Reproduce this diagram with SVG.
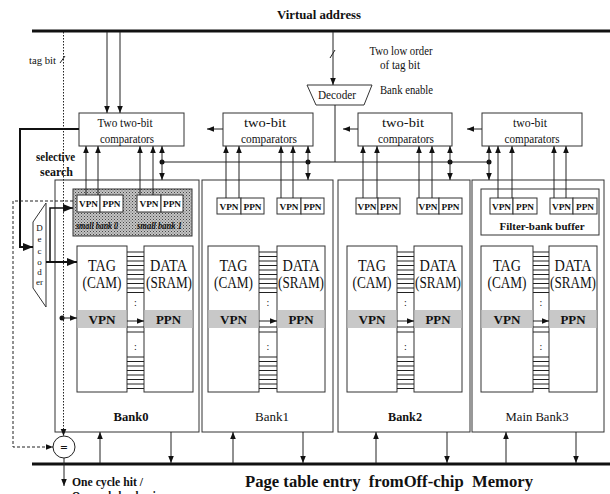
<svg xmlns="http://www.w3.org/2000/svg" width="610" height="494" viewBox="0 0 610 494">
<defs>
<style>
.ln{stroke:#222;stroke-width:1;fill:none}
.box{fill:#fff;stroke:#333;stroke-width:1}
.nf{fill:none;stroke:#333;stroke-width:1}
.t{font-family:"Liberation Serif","Times New Roman",serif;fill:#111}
.b{font-weight:bold}
.band{fill:#c8c8c8}
.m{text-anchor:middle}
</style>
<marker id="ah" viewBox="0 0 10 10" refX="10" refY="5" markerWidth="7" markerHeight="7" markerUnits="userSpaceOnUse" orient="auto"><path d="M0,1 L10,5 L0,9 z" fill="#111"/></marker>
<marker id="ahb" viewBox="0 0 10 10" refX="10" refY="5" markerWidth="10" markerHeight="10" markerUnits="userSpaceOnUse" orient="auto"><path d="M0,1 L10,5 L0,9 z" fill="#111"/></marker>
<pattern id="dots" width="3" height="3" patternUnits="userSpaceOnUse"><rect width="3" height="3" fill="#c4c4c4"/><rect width="1" height="1" fill="#444"/><rect x="1.5" y="1.5" width="1" height="1" fill="#666"/></pattern>
</defs>

<g id="labels">
<text class="t b m" x="319" y="19" font-size="12" textLength="84" lengthAdjust="spacingAndGlyphs">Virtual address</text>
<text class="t" x="29" y="64" font-size="11" textLength="27" lengthAdjust="spacingAndGlyphs">tag bit</text>
<text class="t m" x="401" y="55" font-size="12" textLength="63" lengthAdjust="spacingAndGlyphs">Two low order</text>
<text class="t m" x="400" y="69" font-size="12" textLength="40" lengthAdjust="spacingAndGlyphs">of tag bit</text>
<text class="t" x="380" y="94" font-size="12" textLength="53" lengthAdjust="spacingAndGlyphs">Bank enable</text>
<text class="t b" x="36" y="161" font-size="12" textLength="39" lengthAdjust="spacingAndGlyphs">selective</text>
<text class="t b" x="40" y="176" font-size="12" textLength="33" lengthAdjust="spacingAndGlyphs">search</text>
<text class="t b" x="72" y="486" font-size="12" textLength="71" lengthAdjust="spacingAndGlyphs">One cycle hit /</text>
<text class="t b" x="72" y="500" font-size="12" textLength="92" lengthAdjust="spacingAndGlyphs">One cycle bank miss</text>
<text class="t b" x="245" y="487" font-size="16" textLength="288" lengthAdjust="spacingAndGlyphs" xml:space="preserve">Page table entry  fromOff-chip  Memory</text>
</g>

<g id="decoder_top">
<path class="box" d="M307,85 H372 L364,105 H316 Z"/>
<text class="t m" x="337" y="99" font-size="12" textLength="38" lengthAdjust="spacingAndGlyphs">Decoder</text>
</g>

<g id="comp1">
<rect class="box" x="79" y="113" width="105" height="33"/>
<text class="t m" x="125" y="127" font-size="12" textLength="55" lengthAdjust="spacingAndGlyphs">Two two-bit</text>
<text class="t m" x="127" y="143" font-size="12" textLength="54" lengthAdjust="spacingAndGlyphs">comparators</text>
</g>
<g id="comp2">
<rect class="box" x="223" y="113" width="90" height="33"/>
<text class="t m" x="265" y="127" font-size="12" textLength="42" lengthAdjust="spacingAndGlyphs">two-bit</text>
<text class="t m" x="269" y="143" font-size="12" textLength="56" lengthAdjust="spacingAndGlyphs">comparators</text>
</g>
<g id="comp3">
<rect class="box" x="358" y="113" width="94" height="33"/>
<text class="t m" x="403" y="127" font-size="12" textLength="42" lengthAdjust="spacingAndGlyphs">two-bit</text>
<text class="t m" x="406" y="143" font-size="12" textLength="56" lengthAdjust="spacingAndGlyphs">comparators</text>
</g>
<g id="comp4">
<rect class="box" x="482" y="113" width="100" height="33"/>
<text class="t m" x="530" y="127" font-size="12" textLength="34" lengthAdjust="spacingAndGlyphs">two-bit</text>
<text class="t m" x="532" y="143" font-size="12" textLength="55" lengthAdjust="spacingAndGlyphs">comparators</text>
</g>

<g id="bank0">
<rect class="box" x="55" y="180" width="144" height="252"/>
<rect x="73" y="189" width="119" height="47" fill="url(#dots)" stroke="#333"/>
<rect class="box" x="77" y="195" width="23" height="17"/><rect class="box" x="100" y="195" width="23" height="17"/>
<rect class="box" x="137" y="195" width="24" height="17"/><rect class="box" x="161" y="195" width="22" height="17"/>
<text class="t b m" x="88.5" y="207" font-size="9" textLength="19" lengthAdjust="spacingAndGlyphs">VPN</text>
<text class="t b m" x="111.5" y="207" font-size="9" textLength="18" lengthAdjust="spacingAndGlyphs">PPN</text>
<text class="t b m" x="149" y="207" font-size="9" textLength="19" lengthAdjust="spacingAndGlyphs">VPN</text>
<text class="t b m" x="172" y="207" font-size="9" textLength="18" lengthAdjust="spacingAndGlyphs">PPN</text>
<text class="t b" x="76" y="229" font-size="10" font-style="italic" textLength="42" lengthAdjust="spacingAndGlyphs">small bank 0</text>
<text class="t b" x="137" y="229" font-size="10" font-style="italic" textLength="45" lengthAdjust="spacingAndGlyphs">small bank 1</text>
<rect class="box" x="77" y="246" width="50" height="146"/><rect class="box" x="144" y="246" width="49" height="146"/>
<rect class="band" x="77.5" y="310" width="49" height="18"/><rect class="band" x="144.5" y="310" width="48" height="18"/>
<text class="t m" x="102" y="271" font-size="16" textLength="28" lengthAdjust="spacingAndGlyphs">TAG</text>
<text class="t m" x="102" y="288" font-size="16" textLength="39" lengthAdjust="spacingAndGlyphs">(CAM)</text>
<text class="t m" x="168.5" y="271" font-size="16" textLength="37" lengthAdjust="spacingAndGlyphs">DATA</text>
<text class="t m" x="169" y="288" font-size="16" textLength="46" lengthAdjust="spacingAndGlyphs">(SRAM)</text>
<text class="t b m" x="102" y="324" font-size="13" textLength="27" lengthAdjust="spacingAndGlyphs">VPN</text>
<text class="t b m" x="168.5" y="324" font-size="13" textLength="25" lengthAdjust="spacingAndGlyphs">PPN</text>
<path class="ln" d="M127,252H144M127,256.5H144M127,261H144M127,265.5H144M127,270H144M127,274.5H144M127,279H144M127,283.5H144M127,288H144M127,292.5H144M127,327H144M127,332H144M127,357H144M127,361.5H144M127,366H144M127,370.5H144M127,375H144M127,379.5H144M127,384H144M127,388.5H144"/>
<text class="t m" x="135.5" y="306" font-size="10">:</text>
<text class="t m" x="135.5" y="350" font-size="10">:</text>
<text class="t b m" x="131" y="421" font-size="13" textLength="35" lengthAdjust="spacingAndGlyphs">Bank0</text>
</g>

<g id="bank1">
<rect class="box" x="202" y="180" width="131" height="252"/>
<rect class="box" x="217" y="198" width="24" height="16"/><rect class="box" x="241" y="198" width="23" height="16"/>
<rect class="box" x="277" y="198" width="24" height="16"/><rect class="box" x="301" y="198" width="23" height="16"/>
<text class="t b m" x="229" y="209.5" font-size="9" textLength="19" lengthAdjust="spacingAndGlyphs">VPN</text>
<text class="t b m" x="252.5" y="209.5" font-size="9" textLength="18" lengthAdjust="spacingAndGlyphs">PPN</text>
<text class="t b m" x="289" y="209.5" font-size="9" textLength="19" lengthAdjust="spacingAndGlyphs">VPN</text>
<text class="t b m" x="312.5" y="209.5" font-size="9" textLength="18" lengthAdjust="spacingAndGlyphs">PPN</text>
<rect class="box" x="208" y="246" width="51" height="146"/><rect class="box" x="277" y="246" width="48" height="146"/>
<rect class="band" x="208.5" y="310" width="50" height="18"/><rect class="band" x="277.5" y="310" width="47" height="18"/>
<text class="t m" x="233.5" y="271" font-size="16" textLength="28" lengthAdjust="spacingAndGlyphs">TAG</text>
<text class="t m" x="233.5" y="288" font-size="16" textLength="39" lengthAdjust="spacingAndGlyphs">(CAM)</text>
<text class="t m" x="301" y="271" font-size="16" textLength="37" lengthAdjust="spacingAndGlyphs">DATA</text>
<text class="t m" x="301" y="288" font-size="16" textLength="46" lengthAdjust="spacingAndGlyphs">(SRAM)</text>
<text class="t b m" x="233.5" y="324" font-size="13" textLength="27" lengthAdjust="spacingAndGlyphs">VPN</text>
<text class="t b m" x="301" y="324" font-size="13" textLength="25" lengthAdjust="spacingAndGlyphs">PPN</text>
<path class="ln" d="M259,252H277M259,256.5H277M259,261H277M259,265.5H277M259,270H277M259,274.5H277M259,279H277M259,283.5H277M259,288H277M259,292.5H277M259,327H277M259,332H277M259,357H277M259,361.5H277M259,366H277M259,370.5H277M259,375H277M259,379.5H277M259,384H277M259,388.5H277"/>
<text class="t m" x="268" y="306" font-size="10">:</text>
<text class="t m" x="268" y="350" font-size="10">:</text>
<text class="t m" x="272" y="421" font-size="13" textLength="34" lengthAdjust="spacingAndGlyphs">Bank1</text>
</g>

<g id="bank2">
<rect class="box" x="338" y="180" width="132" height="252"/>
<rect class="box" x="356" y="198" width="22" height="16"/><rect class="box" x="378" y="198" width="22" height="16"/>
<rect class="box" x="417" y="198" width="22" height="16"/><rect class="box" x="439" y="198" width="23" height="16"/>
<text class="t b m" x="367" y="209.5" font-size="9" textLength="19" lengthAdjust="spacingAndGlyphs">VPN</text>
<text class="t b m" x="389" y="209.5" font-size="9" textLength="18" lengthAdjust="spacingAndGlyphs">PPN</text>
<text class="t b m" x="428" y="209.5" font-size="9" textLength="19" lengthAdjust="spacingAndGlyphs">VPN</text>
<text class="t b m" x="450.5" y="209.5" font-size="9" textLength="18" lengthAdjust="spacingAndGlyphs">PPN</text>
<rect class="box" x="347" y="246" width="50" height="146"/><rect class="box" x="414" y="246" width="48" height="146"/>
<rect class="band" x="347.5" y="310" width="49" height="18"/><rect class="band" x="414.5" y="310" width="47" height="18"/>
<text class="t m" x="372" y="271" font-size="16" textLength="28" lengthAdjust="spacingAndGlyphs">TAG</text>
<text class="t m" x="372" y="288" font-size="16" textLength="39" lengthAdjust="spacingAndGlyphs">(CAM)</text>
<text class="t m" x="438" y="271" font-size="16" textLength="37" lengthAdjust="spacingAndGlyphs">DATA</text>
<text class="t m" x="438" y="288" font-size="16" textLength="46" lengthAdjust="spacingAndGlyphs">(SRAM)</text>
<text class="t b m" x="372" y="324" font-size="13" textLength="27" lengthAdjust="spacingAndGlyphs">VPN</text>
<text class="t b m" x="438" y="324" font-size="13" textLength="25" lengthAdjust="spacingAndGlyphs">PPN</text>
<path class="ln" d="M397,252H414M397,256.5H414M397,261H414M397,265.5H414M397,270H414M397,274.5H414M397,279H414M397,283.5H414M397,288H414M397,292.5H414M397,327H414M397,332H414M397,357H414M397,361.5H414M397,366H414M397,370.5H414M397,375H414M397,379.5H414M397,384H414M397,388.5H414"/>
<text class="t m" x="405.5" y="306" font-size="10">:</text>
<text class="t m" x="405.5" y="350" font-size="10">:</text>
<text class="t b m" x="405" y="421" font-size="13" textLength="34" lengthAdjust="spacingAndGlyphs">Bank2</text>
</g>

<g id="bank3">
<rect class="box" x="472" y="180" width="132" height="252"/>
<rect class="box" x="481" y="189" width="118" height="46"/>
<rect class="box" x="490" y="198" width="23" height="16"/><rect class="box" x="513" y="198" width="24" height="16"/>
<rect class="box" x="550" y="198" width="23" height="16"/><rect class="box" x="573" y="198" width="24" height="16"/>
<text class="t b m" x="501.5" y="209.5" font-size="9" textLength="19" lengthAdjust="spacingAndGlyphs">VPN</text>
<text class="t b m" x="525" y="209.5" font-size="9" textLength="18" lengthAdjust="spacingAndGlyphs">PPN</text>
<text class="t b m" x="561.5" y="209.5" font-size="9" textLength="19" lengthAdjust="spacingAndGlyphs">VPN</text>
<text class="t b m" x="585" y="209.5" font-size="9" textLength="18" lengthAdjust="spacingAndGlyphs">PPN</text>
<text class="t b m" x="542" y="230" font-size="11" textLength="85" lengthAdjust="spacingAndGlyphs">Filter-bank buffer</text>
<rect class="box" x="481" y="246" width="52" height="146"/><rect class="box" x="549" y="246" width="48" height="146"/>
<rect class="band" x="481.5" y="310" width="51" height="18"/><rect class="band" x="549.5" y="310" width="47" height="18"/>
<text class="t m" x="507" y="271" font-size="16" textLength="28" lengthAdjust="spacingAndGlyphs">TAG</text>
<text class="t m" x="507" y="288" font-size="16" textLength="39" lengthAdjust="spacingAndGlyphs">(CAM)</text>
<text class="t m" x="573" y="271" font-size="16" textLength="37" lengthAdjust="spacingAndGlyphs">DATA</text>
<text class="t m" x="573" y="288" font-size="16" textLength="46" lengthAdjust="spacingAndGlyphs">(SRAM)</text>
<text class="t b m" x="507" y="324" font-size="13" textLength="27" lengthAdjust="spacingAndGlyphs">VPN</text>
<text class="t b m" x="573" y="324" font-size="13" textLength="25" lengthAdjust="spacingAndGlyphs">PPN</text>
<path class="ln" d="M533,252H549M533,256.5H549M533,261H549M533,265.5H549M533,270H549M533,274.5H549M533,279H549M533,283.5H549M533,288H549M533,292.5H549M533,327H549M533,332H549M533,357H549M533,361.5H549M533,366H549M533,370.5H549M533,375H549M533,379.5H549M533,384H549M533,388.5H549"/>
<text class="t m" x="541" y="306" font-size="10">:</text>
<text class="t m" x="541" y="350" font-size="10">:</text>
<text class="t m" x="537" y="421" font-size="13" textLength="63" lengthAdjust="spacingAndGlyphs">Main Bank3</text>
</g>

<g id="decoder_left">
<path class="box" d="M46,203 V307 L33,288 V222 Z"/>
<text class="t m" x="39.5" y="231" font-size="9">D</text>
<text class="t m" x="39.5" y="242" font-size="9">e</text>
<text class="t m" x="39.5" y="254" font-size="9">c</text>
<text class="t m" x="39.5" y="265" font-size="9">o</text>
<text class="t m" x="39.5" y="275" font-size="9">d</text>
<text class="t m" x="39.5" y="285" font-size="9">er</text>
</g>

<g id="compare">
<circle cx="64" cy="447" r="11" fill="#fff" stroke="#222"/>
<text class="t b m" x="64" y="452" font-size="13">=</text>
</g>

<g id="connectors">
<line x1="32" y1="31" x2="610" y2="31" stroke="#111" stroke-width="3"/>
<line x1="32" y1="464" x2="610" y2="464" stroke="#111" stroke-width="3"/>
<line class="ln" x1="107" y1="32" x2="107" y2="113" marker-end="url(#ah)"/>
<line class="ln" x1="120" y1="32" x2="120" y2="113" marker-end="url(#ah)"/>
<line class="ln" x1="333" y1="32" x2="333" y2="85" marker-end="url(#ah)"/>
<line class="ln" x1="330" y1="58" x2="335" y2="50"/>
<line class="ln" x1="60" y1="63" x2="65" y2="56"/>
<line class="ln" x1="63.5" y1="32" x2="63.5" y2="436" stroke-dasharray="1.5,1.5" marker-end="url(#ah)"/>
<line class="ln" x1="335" y1="105" x2="335" y2="162"/>
<line class="ln" x1="162" y1="162" x2="489" y2="162" stroke="#444"/>
<g fill="#111">
<circle cx="162" cy="162" r="2.5"/><circle cx="308" cy="162" r="2.5"/><circle cx="450" cy="162" r="2.5"/><circle cx="489" cy="162" r="2.5"/>
<circle cx="62" cy="318" r="2.5"/>
</g>
<g class="ln" marker-end="url(#ah)">
<line x1="162" y1="162" x2="162" y2="146"/><line x1="162" y1="162" x2="162" y2="180"/>
<line x1="308" y1="162" x2="308" y2="146"/><line x1="308" y1="162" x2="308" y2="180"/>
<line x1="450" y1="162" x2="450" y2="146"/><line x1="450" y1="162" x2="450" y2="180"/>
<line x1="489" y1="162" x2="489" y2="146"/><line x1="489" y1="162" x2="489" y2="180"/>
<line x1="86" y1="195" x2="86" y2="146"/><line x1="98" y1="195" x2="98" y2="146"/>
<line x1="140" y1="195" x2="140" y2="146"/><line x1="153" y1="195" x2="153" y2="146"/>
<line x1="226" y1="198" x2="226" y2="146"/><line x1="239" y1="198" x2="239" y2="146"/>
<line x1="281" y1="198" x2="281" y2="146"/><line x1="293" y1="198" x2="293" y2="146"/>
<line x1="363" y1="198" x2="363" y2="146"/><line x1="377" y1="198" x2="377" y2="146"/>
<line x1="419" y1="198" x2="419" y2="146"/><line x1="432" y1="198" x2="432" y2="146"/>
<line x1="498" y1="198" x2="498" y2="146"/><line x1="512" y1="198" x2="512" y2="146"/>
<line x1="554" y1="198" x2="554" y2="146"/><line x1="566" y1="198" x2="566" y2="146"/>
<line x1="223" y1="129" x2="207" y2="129"/><line x1="358" y1="129" x2="343" y2="129"/><line x1="482" y1="129" x2="467" y2="129"/>
<line x1="127" y1="321" x2="144" y2="321"/><line x1="259" y1="321" x2="277" y2="321"/><line x1="397" y1="321" x2="414" y2="321"/><line x1="533" y1="321" x2="549" y2="321"/>
<line x1="62" y1="318" x2="77" y2="318"/>
<line x1="100" y1="463" x2="100" y2="432"/><line x1="171" y1="432" x2="171" y2="463"/>
<line x1="233" y1="463" x2="233" y2="432"/><line x1="303" y1="432" x2="303" y2="463"/>
<line x1="376" y1="463" x2="376" y2="432"/><line x1="447" y1="432" x2="447" y2="463"/>
<line x1="506" y1="463" x2="506" y2="432"/><line x1="576" y1="432" x2="576" y2="463"/>
<line x1="64" y1="458" x2="64" y2="486"/>
</g>
<path d="M79,129 H20 V247 H33" fill="none" stroke="#111" stroke-width="2" marker-end="url(#ahb)"/>
<path d="M46,262 H77" fill="none" stroke="#111" stroke-width="2" marker-end="url(#ahb)"/>
<path d="M50,262 V208 H73" fill="none" stroke="#111" stroke-width="1.5" marker-end="url(#ahb)"/>
<path d="M73,201 H13 V447 H53" fill="none" stroke="#222" stroke-width="1" stroke-dasharray="3,2" marker-end="url(#ah)"/>
</g>
</svg>
